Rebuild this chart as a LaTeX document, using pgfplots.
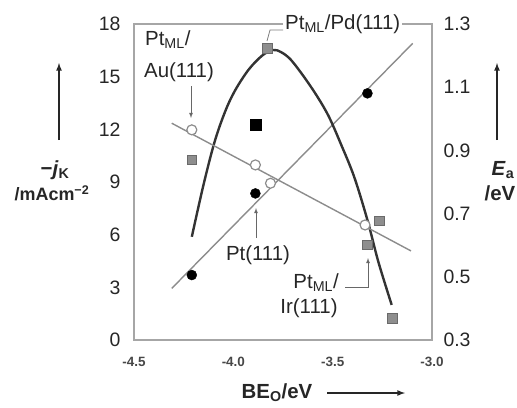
\documentclass[border=0pt]{standalone}
\usepackage{fontspec}
\setmainfont{Liberation Sans}
\usepackage{pgfplots}
\pgfplotsset{compat=1.18}
\definecolor{txt}{HTML}{262626}
\definecolor{axgray}{HTML}{A6A6A6}
\definecolor{sqgray}{HTML}{8E8E8E}
\definecolor{sqedge}{HTML}{6A6A6A}
\definecolor{lngray}{HTML}{8C8C8C}
\definecolor{curve}{HTML}{333333}
\newcommand\tl{\fontsize{19.5}{19.5}\selectfont}
\newcommand\an{\fontsize{20.5}{21}\selectfont}
\begin{document}
\begin{tikzpicture}[x=1bp,y=1bp]
\useasboundingbox (0,0) rectangle (517,407);
% left axis
\begin{axis}[at={(134bp,67bp)}, anchor=south west, scale only axis,
  width=298bp, height=316bp,
  xmin=-4.5, xmax=-3.0, ymin=0, ymax=18,
  axis line style={axgray, line width=1.8bp},
  major tick length=0pt,
  /pgf/number format/assume math mode=true,
  xtick={-4.5,-4.0,-3.5,-3.0}, xticklabels={-4.5,-4.0,-3.5,-3.0},
  ytick={0,3,6,9,12,15,18}, yticklabels={0,3,6,9,12,15,18},
  yticklabel style={font=\tl, text=txt, xshift=-10bp},
  xticklabel style={font=\bfseries\fontsize{13.5}{14}\selectfont, text=txt!85, yshift=-14bp},
  clip=false]
% line through filled circles
\addplot[lngray, line width=1.4bp] coordinates {(-4.310,2.94) (-3.097,16.90)};
% volcano curve
\addplot[curve, line width=2.4bp, smooth, tension=0.55] coordinates {
 (-4.209,5.88) (-4.150,8.85) (-4.094,11.30) (-4.040,13.05) (-3.990,14.24)
 (-3.923,15.40) (-3.855,16.20) (-3.800,16.52) (-3.760,16.40) (-3.712,15.98)
 (-3.645,15.00) (-3.577,13.86) (-3.519,12.72) (-3.460,11.20) (-3.392,9.30)
 (-3.325,6.83) (-3.270,4.45) (-3.203,2.00)};
% filled circles
\addplot[only marks, mark=*, mark size=5bp, mark options={fill=black, draw=black}]
 coordinates {(-4.209,3.70) (-3.889,8.35) (-3.325,14.05)};
% gray squares
\addplot[only marks, mark=square*, mark size=4.8bp, mark options={fill=sqgray, draw=sqedge, line width=0.8bp}]
 coordinates {(-4.209,10.25) (-3.830,16.60) (-3.266,6.78) (-3.325,5.41) (-3.199,1.24)};
% black square
\addplot[only marks, mark=square*, mark size=5.5bp, mark options={fill=black, draw=black}]
 coordinates {(-3.889,12.24)};
\end{axis}
% right axis
\begin{axis}[at={(134bp,67bp)}, anchor=south west, scale only axis,
  width=298bp, height=316bp,
  xmin=-4.5, xmax=-3.0, ymin=0.3, ymax=1.3,
  axis x line=none, axis y line*=right,
  axis line style={axgray, line width=1.8bp},
  major tick length=0pt,
  /pgf/number format/assume math mode=true,
  ytick={0.3,0.5,0.7,0.9,1.1,1.3}, yticklabels={0.3,0.5,0.7,0.9,1.1,1.3},
  yticklabel style={font=\tl, text=txt, xshift=8bp},
  clip=false]
\addplot[lngray, line width=1.4bp] coordinates {(-4.310,0.986) (-3.106,0.582)};
\addplot[only marks, mark=*, mark size=5bp, mark options={fill=white, draw=lngray, line width=1.2bp}]
 coordinates {(-4.209,0.965) (-3.889,0.854) (-3.813,0.796) (-3.337,0.664)};
\end{axis}
% annotations
\begin{scope}[every node/.style={text=txt, font=\an, inner sep=0pt}]
\node[anchor=west] at (145,367) {Pt\textsubscript{ML}/};
\node[anchor=west] at (144,335) {Au(111)};
\draw[-latex, txt!70, line width=0.8bp] (191,321) -- (191,289);
\node[anchor=west, fill=white, inner xsep=2bp, inner ysep=3bp] at (283,383) {Pt\textsubscript{ML}/Pd(111)};
\draw[txt!60, line width=0.8bp] (283,377) -- (270,377) -- (267,366);
\node at (258,152) {Pt(111)};
\draw[-latex, txt!70, line width=0.8bp] (256,169) -- (256,199);
\node[anchor=east] at (339,124) {Pt\textsubscript{ML}/};
\node at (309,99) {Ir(111)};
\draw[-latex, txt!70, line width=0.8bp] (345,120) -- (368,120) -- (368,149);
% axis labels
\draw[-latex, txt, line width=1.6bp] (59,267) -- (59,344);
\node[font=\bfseries\an] at (55,237) {−\textit{j}\textsubscript{K}};
\node[font=\bfseries\fontsize{18}{18}\selectfont] at (52,214) {/mAcm\textsuperscript{−2}};
\draw[-latex, txt, line width=1.6bp] (497,267) -- (497,344);
\node[font=\bfseries\an] at (503,237) {\textit{E}\textsubscript{a}};
\node[font=\bfseries\an] at (500,214) {/eV};
\node[font=\bfseries\an] at (277,14) {BE\textsubscript{O}/eV};
\draw[-latex, txt, line width=1.6bp] (327,14) -- (405,14);
\end{scope}
\end{tikzpicture}
\end{document}
